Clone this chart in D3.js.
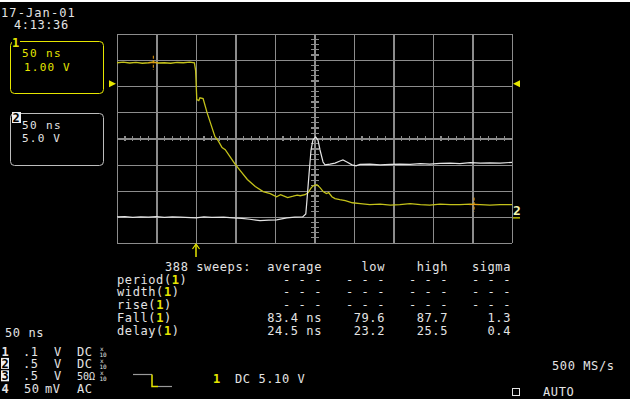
<!DOCTYPE html>
<html>
<head>
<meta charset="utf-8">
<script src="https://cdn.jsdelivr.net/npm/d3@7"></script>
<style>
  html, body { margin: 0; padding: 0; background: #000; }
  svg { display: block; }
  text { font-family: "DejaVu Sans Mono", monospace; }
</style>
</head>
<body>
<svg id="scope" width="630" height="399"></svg>
<script>
// ── Data ───────────────────────────────────────────────────
// channel 1 (yellow) : [time ns, volts], trigger at t = 0
const ch1Trace = [
  [-100, 0.80], [-92, 0.82], [-84, 0.79], [-76, 0.81], [-68, 0.78], [-60, 0.80],
  [-54, 0.83], [-48, 0.79], [-40, 0.80], [-32, 0.78], [-24, 0.81], [-16, 0.80],
  [-8, 0.82], [-2, 0.80], [-0.5, 0.50], [1, -0.61], [3.5, -0.65], [5, -0.54],
  [9, -0.57], [14, -1.11], [19, -1.57], [24, -2.03], [28, -2.18], [33, -2.45],
  [37, -2.53], [43, -2.79], [49, -3.06], [56, -3.33], [65, -3.67], [75, -3.94],
  [85, -4.13], [94, -4.21], [102, -4.33], [107, -4.25], [110, -4.29], [116, -4.36],
  [123, -4.31], [128, -4.27], [132, -4.29], [138, -4.25], [142, -4.17], [146, -3.98],
  [149, -3.90], [153, -3.87], [157, -3.98], [161, -4.13], [165, -4.21], [168, -4.17],
  [172, -4.33], [176, -4.40], [182, -4.44], [189, -4.48], [198, -4.56], [208, -4.59],
  [220, -4.63], [233, -4.61], [246, -4.65], [258, -4.63], [271, -4.59], [284, -4.63],
  [296, -4.65], [309, -4.61], [322, -4.63], [334, -4.63], [347, -4.61], [360, -4.63],
  [372, -4.65], [385, -4.63], [400, -4.63]
];

// channel 2 (white) : [time ns, volts]
const ch2Trace = [
  [-100, 0.0], [-90, 0.05], [-80, -0.1], [-70, 0.0], [-60, -0.05], [-50, 0.05],
  [-40, -0.1], [-30, 0.0], [-20, -0.05], [0, -0.19], [10, 0.0], [20, -0.1],
  [35, -0.05], [47, -0.19], [58, -0.3], [68, -0.45], [81, -0.71], [92, -0.62],
  [102, -0.57], [115, -0.19], [125, -0.05], [135, 0.0], [139, 0.57], [140.5, 3.25],
  [143, 8.04], [145.6, 12.8], [148, 14.7], [151.5, 15.3], [154.4, 14.7], [157, 12.8],
  [160.8, 10.5], [163.3, 9.95], [169.6, 10.1], [176, 10.3], [182.3, 10.7], [186, 10.9],
  [191, 10.5], [197.5, 9.95], [202.5, 9.76], [207.6, 10.05], [220, 10.1], [233, 9.95],
  [246, 10.05], [258, 10.1], [271, 10.05], [284, 10.2], [296, 10.1], [309, 10.24],
  [322, 10.3], [334, 10.2], [347, 10.4], [360, 10.3], [372, 10.35], [385, 10.3],
  [400, 10.43]
];

// cursor markers on channel 1 : [time ns, volts]
const ch1Cursors = [[-54, 0.80], [352, -4.63]];

// left info boxes
const boxChannels = ["1", "2"];
const boxTimebase = ["50 ns", "50 ns"];
const boxVoltsDiv = ["1.00 V", "5.0 V"];

// measurement table
const statHeader = ["average", "low", "high", "sigma"];
const measureNames = ["period", "width", "rise", "Fall", "delay"];
const measureAvg = ["- - -", "- - -", "- - -", "83.4 ns", "24.5 ns"];
const measureLow = ["- - -", "- - -", "- - -", "79.6", "23.2"];
const measureHigh = ["- - -", "- - -", "- - -", "87.7", "25.5"];
const measureSigma = ["- - -", "- - -", "- - -", "1.3", "0.4"];
const sweepCount = 388;

// channel settings (bottom left)
const chanNums = ["1", "2", "3", "4"];
const chanScale = [".1", ".5", ".5", "50"];
const chanUnit = ["V", "V", "V", "mV"];
const chanCoupling = ["DC", "DC", "50Ω", "AC"];
const chanProbe = [true, true, true, false];

// ── Layout ─────────────────────────────────────────────────
const svg = d3.select('#scope');
const W = 630, H = 399;
const gL = 117, gR = 512, gT = 34, gB = 243;
const plotW = gR - gL, plotH = gB - gT;

const YEL = '#e6e600';
const TRACE_YEL = '#c4c21a';
const WHITE = '#e4e4e4';
const GRID = '#8c8c8c';
const ORANGE = '#e89a10';

svg.append('rect').attr('width', W).attr('height', H).attr('fill', '#000');
svg.append('rect').attr('width', W).attr('height', 2).attr('fill', '#fff');

// scales: 50 ns/div, trigger at 2 divisions from the left
const x = d3.scaleLinear().domain([-100, 400]).range([gL, gR]);
const div = d3.scaleLinear().domain([-4, 4]).range([gB, gT]);
// ch1 1.00 V/div, ground 2.1 div above center
const y1 = d3.scaleLinear().domain([-6.1, 1.9]).range([gB, gT]);
// ch2 5.0 V/div, ground 3 div below center
const y2 = d3.scaleLinear().domain([-5, 35]).range([gB, gT]);

// ── Graticule ──────────────────────────────────────────────
const grid = svg.append('g');
grid.append('g')
  .attr('transform', `translate(0,${gB})`)
  .call(d3.axisBottom(x).tickValues(d3.range(-100, 401, 50)).tickSize(-plotH).tickFormat(''))
  .call(g => g.select('.domain').remove());
grid.append('g')
  .attr('transform', `translate(${gL},0)`)
  .call(d3.axisLeft(div).tickValues(d3.range(-4, 5, 1)).tickSize(-plotW).tickFormat(''))
  .call(g => g.select('.domain').remove());
grid.selectAll('line').attr('stroke', GRID).attr('stroke-width', 1.2).attr('shape-rendering', 'crispEdges');

// minor ticks on the center axes (5 per division)
const cx = x(150), cy = div(0);
const minorX = d3.range(-100, 400.1, 10).filter(t => (t + 100) % 50 !== 0);
const minorY = d3.range(-4, 4.01, 0.2).filter(v => Math.abs(v - Math.round(v)) > 0.01);
grid.selectAll('.mx').data(minorX).enter().append('line')
  .attr('x1', d => x(d)).attr('x2', d => x(d))
  .attr('y1', cy - 2.5).attr('y2', cy + 2.5)
  .attr('stroke', GRID).attr('stroke-width', 1.2).attr('shape-rendering', 'crispEdges');
grid.selectAll('.my').data(minorY).enter().append('line')
  .attr('y1', d => div(d)).attr('y2', d => div(d))
  .attr('x1', cx - 4).attr('x2', cx + 4)
  .attr('stroke', GRID).attr('stroke-width', 1.2).attr('shape-rendering', 'crispEdges');

// ── Traces ─────────────────────────────────────────────────
const line1 = d3.line().x(d => x(d[0])).y(d => y1(d[1]));
const line2 = d3.line().x(d => x(d[0])).y(d => y2(d[1]));

svg.append('path').datum(ch1Trace).attr('d', line1)
  .attr('fill', 'none').attr('stroke', TRACE_YEL).attr('stroke-width', 1.3);
svg.append('path').datum(ch2Trace).attr('d', line2)
  .attr('fill', 'none').attr('stroke', WHITE).attr('stroke-width', 1.2);

// cursors
ch1Cursors.forEach(c => {
  const px = x(c[0]), py = y1(c[1]);
  svg.append('line').attr('x1', px).attr('x2', px).attr('y1', py - 7).attr('y2', py + 7)
    .attr('stroke', ORANGE).attr('stroke-width', 1).attr('stroke-dasharray', '3,1.5');
  svg.append('line').attr('x1', px - 5).attr('x2', px + 5).attr('y1', py).attr('y2', py)
    .attr('stroke', ORANGE).attr('stroke-width', 1);
});

// ── Markers ────────────────────────────────────────────────
const g1 = y1(0);
svg.append('path').attr('d', `M${gL - 8},${g1 - 3.5}L${gL - 1},${g1}L${gL - 8},${g1 + 3.5}Z`).attr('fill', YEL);
svg.append('path').attr('d', `M${gR + 8},${g1 - 3.5}L${gR + 1},${g1}L${gR + 8},${g1 + 3.5}Z`).attr('fill', YEL);

// trigger position arrow
const tx = x(0);
svg.append('line').attr('x1', tx).attr('x2', tx).attr('y1', gB + 2).attr('y2', gB + 14)
  .attr('stroke', YEL).attr('stroke-width', 1.5);
svg.append('path').attr('d', `M${tx - 3.5},${gB + 6}L${tx},${gB + 1}L${tx + 3.5},${gB + 6}`)
  .attr('fill', 'none').attr('stroke', YEL).attr('stroke-width', 1.2);

// channel 2 ground marker
const g2 = y2(0);
svg.append('text').attr('x', gR + 1).attr('y', g2 - 2).attr('font-size', 13).attr('font-weight', 'bold')
  .attr('fill', '#f4f4b0').text('2');
svg.append('line').attr('x1', gR + 1).attr('x2', gR + 8).attr('y1', g2 + 1).attr('y2', g2 + 1)
  .attr('stroke', YEL).attr('stroke-width', 1.2);

// ── Header text ────────────────────────────────────────────
function txt(xp, yp, s, opts = {}) {
  return svg.append('text').attr('x', xp).attr('y', yp)
    .attr('font-size', opts.size || 12)
    .attr('letter-spacing', opts.ls === undefined ? 0.6 : opts.ls)
    .attr('fill', opts.fill || WHITE)
    .attr('text-anchor', opts.anchor || 'start')
    .attr('font-weight', opts.weight || 'normal')
    .text(s);
}

txt(1, 17, '17-Jan-01', { ls: 1.1 });
txt(14, 29, '4:13:36', { ls: 0.6 });

// info boxes
const boxColors = [YEL, '#bdbdbd'];
const boxTops = [41, 113];
boxChannels.forEach((ch, i) => {
  const bt = boxTops[i];
  svg.append('rect').attr('x', 10.5).attr('y', bt + 0.5).attr('width', 93).attr('height', 52)
    .attr('rx', 4).attr('fill', 'none').attr('stroke', boxColors[i]).attr('stroke-width', 1);
  if (i === 0) {
    svg.append('rect').attr('x', 12).attr('y', bt - 4).attr('width', 8).attr('height', 10).attr('fill', '#000');
    txt(12, bt + 6, ch, { fill: YEL, weight: 'bold', size: 12, ls: 0 });
  } else {
    svg.append('rect').attr('x', 12).attr('y', bt - 1).attr('width', 9).attr('height', 11).attr('fill', '#f0f0f0');
    txt(12.5, bt + 9, ch, { fill: '#000', weight: 'bold', size: 12, ls: 0 });
  }
  const c = i === 0 ? YEL : WHITE;
  txt(22, bt + 16, boxTimebase[i], { fill: c, size: 11, ls: 1.4 });
  txt(i === 0 ? 24 : 22, bt + 30 - (i === 0 ? 0 : 1), boxVoltsDiv[i], { fill: c, size: 11, ls: 1.2 });
});

// ── Measurement table ──────────────────────────────────────
const colEnds = [322, 385, 448, 511];
const rowY = d3.scaleLinear().domain([0, 1]).range([283.5, 296.3]);
txt(165, 271, `${sweepCount} sweeps:`);
statHeader.forEach((h, i) => txt(colEnds[i], 271, h, { anchor: 'end' }));

measureNames.forEach((name, r) => {
  const yp = rowY(r);
  const t = svg.append('text').attr('x', 117).attr('y', yp).attr('font-size', 12)
    .attr('letter-spacing', 0.6).attr('fill', WHITE);
  t.append('tspan').text(name + '(');
  t.append('tspan').attr('fill', YEL).attr('font-weight', 'bold').text('1');
  t.append('tspan').text(')');
  [measureAvg, measureLow, measureHigh, measureSigma].forEach((col, c) => {
    txt(colEnds[c], yp, col[r], { anchor: 'end' });
  });
});

// ── Bottom status ──────────────────────────────────────────
txt(5, 337, '50 ns');
chanNums.forEach((n, i) => {
  const yp = 355.5 + i * 12.4;
  if (i === 1 || i === 2) {
    svg.append('rect').attr('x', 1).attr('y', yp - 10).attr('width', 8).attr('height', 11).attr('fill', '#f0f0f0');
    txt(1.5, yp, n, { fill: '#000', weight: 'bold', size: 12, ls: 0 });
  } else {
    txt(1.5, yp, n, { weight: 'bold', size: 12, ls: 0 });
  }
  txt(i === 3 ? 24 : 23, yp, chanScale[i]);
  txt(i === 3 ? 45 : 54, yp, chanUnit[i]);
  txt(77, yp, chanCoupling[i], { size: chanCoupling[i].length > 2 ? 10 : 12, ls: chanCoupling[i].length > 2 ? 0 : 0.6 });
  if (chanProbe[i]) {
    txt(100, yp - 5, 'x', { size: 6, ls: 0 });
    txt(99.5, yp + 1, '10', { size: 6, ls: 0 });
  }
});

// trigger slope icon
svg.append('path').attr('d', 'M133,374.5H152').attr('stroke', '#9a9a9a').attr('stroke-width', 1.2).attr('fill', 'none');
svg.append('path').attr('d', 'M152,374.5V386.5H158').attr('stroke', YEL).attr('stroke-width', 1.5).attr('fill', 'none');
svg.append('path').attr('d', 'M158,386.5H172').attr('stroke', '#9a9a9a').attr('stroke-width', 1.2).attr('fill', 'none');

txt(213, 383, '1', { fill: YEL, weight: 'bold', ls: 0 });
txt(235, 383, 'DC 5.10 V');

txt(552, 370, '500 MS/s');
svg.append('rect').attr('x', 512.5).attr('y', 388.5).attr('width', 7).attr('height', 7)
  .attr('fill', 'none').attr('stroke', WHITE).attr('stroke-width', 1);
txt(543, 396, 'AUTO');
</script>
</body>
</html>
